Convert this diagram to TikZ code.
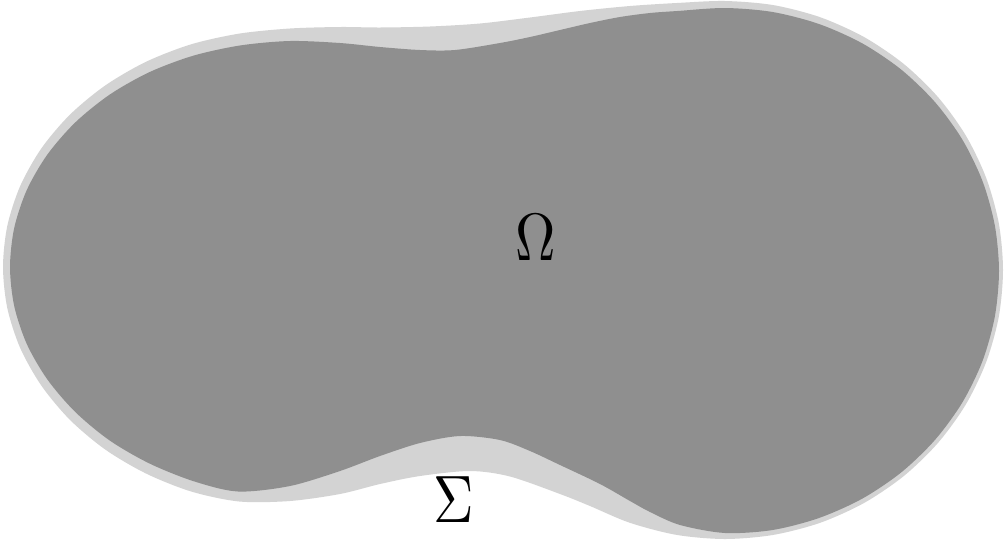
\documentclass[tikz,border=0pt]{standalone}
\definecolor{outergray}{RGB}{211,211,211}
\definecolor{innergray}{RGB}{143,143,143}
\tikzset{
  outerregion/.style={fill=outergray, draw=none},
  innerregion/.style={fill=innergray, draw=none},
  biglabel/.style={inner sep=0pt, xscale=5.6, yscale=6.7}
}
\begin{document}
\begin{tikzpicture}[x=1pt,y=-1pt]
\useasboundingbox (0,0) rectangle (1004,547);
% outer region Sigma-band
\fill[outerregion] plot[smooth cycle, tension=0.5] coordinates {
 (239.3,33.6) (290,28.5) (340,27) (380,27.5) (430,26.5) (480,23.5)
 (530,17.5) (580,11) (630,6) (676.7,3) (725,1) (773.3,5.1) (820.1,17.2)
 (864,37) (903.7,63.9) (938,97.1) (965.8,135.5) (986.2,178) (998.8,223.3)
 (1003,270) (998.8,316.7) (986.2,362) (965.8,404.5) (938,442.9)
 (903.7,476.1) (864,503) (820.1,522.8) (773.3,534.9) (725,539)
 (676.7,534.9) (629.9,522.8) (590,506) (560,494) (510,476.5) (470,471)
 (420,476) (380,484) (340,494) (290,501) (239.3,501.5) (191.2,491.5)
 (146,473.5) (105.2,449.5) (69.9,419.8) (41.3,385.5) (20.2,348)
 (7.3,308.1) (3,267) (7.3,225.9) (20.2,186) (41.3,148.5) (69.9,114.7)
 (105.2,85.5) (146,61.8) (191.2,44.3)};
% inner region Omega
\fill[innerregion] plot[smooth cycle, tension=0.5] coordinates {
 (240.6,45.4) (290,41) (340,43) (380,47) (420,50) (455,50) (500,43)
 (530,37) (560,30) (590,23) (620,17) (650,13) (677.4,11) (725,8)
 (772.6,12) (818.7,23.9) (862,43.2) (901.1,69.5) (934.9,102)
 (962.3,139.5) (982.5,181.1) (994.8,225.3) (999,271) (994.8,316.7)
 (982.5,361) (962.3,402.5) (934.9,440) (901.1,472.5) (862,498.8)
 (818.7,518.1) (772.6,530) (725,533) (680,525) (650,512) (630,501)
 (600,484) (560,465) (530,451) (500,440) (460,436) (420,443) (380,456)
 (340,471) (290,486) (238,491.5) (193.6,481.2) (149.5,463.5)
 (109.7,440.5) (75.3,412) (47.4,379.5) (26.8,344) (14.2,306) (10,267)
 (14.2,228) (26.8,190) (47.4,154.5) (75.3,122.4) (109.7,94.6)
 (149.5,72.1) (193.6,55.6)};
\node[biglabel] (omega) at (536,238) {$\Omega$};
\node[biglabel] (sigma) at (454,500) {$\Sigma$};
\end{tikzpicture}
\end{document}
